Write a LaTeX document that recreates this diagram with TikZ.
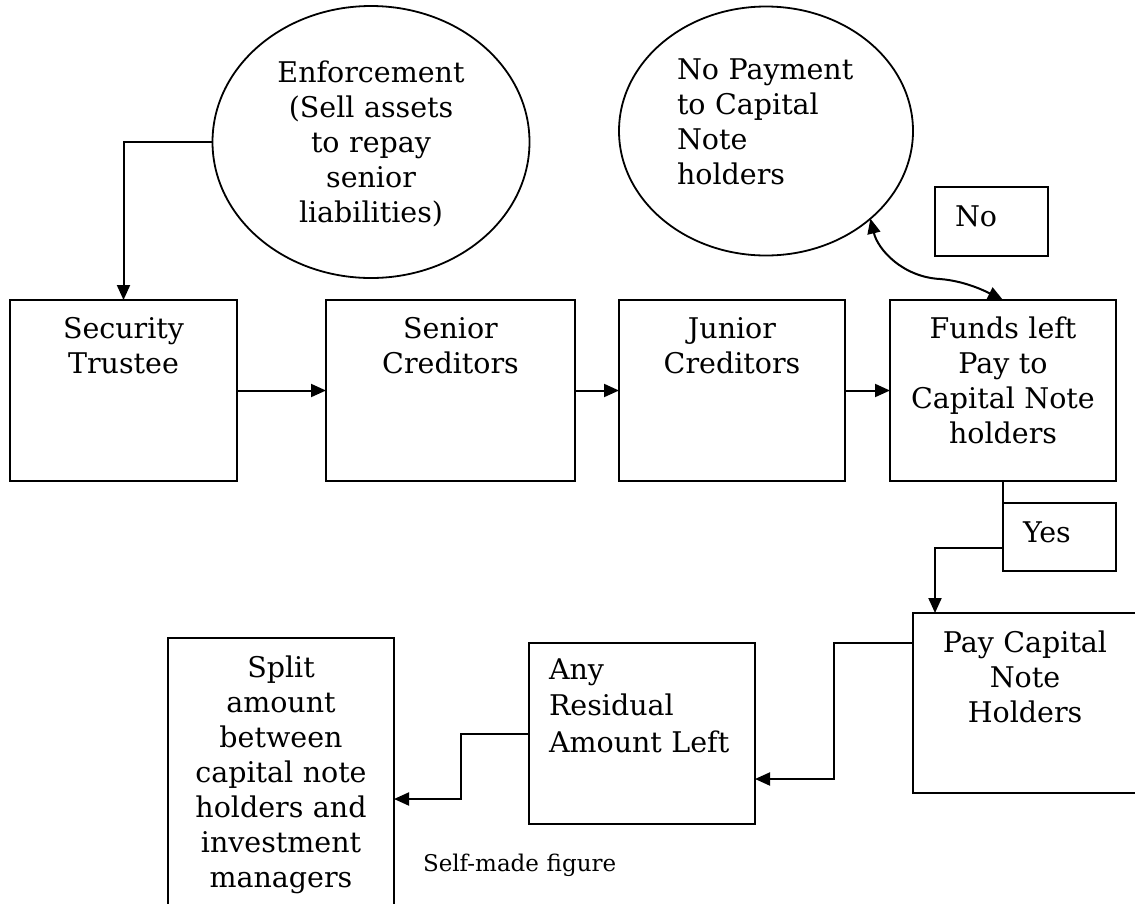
\documentclass[tikz,border=0pt]{standalone}
\usepackage{fontspec}
\setmainfont{DejaVu Serif}
\usetikzlibrary{arrows.meta,shapes.geometric}
\tikzset{
  box/.style={draw, line width=2pt, rectangle, inner sep=0pt, outer sep=0pt, anchor=north west},
  oval/.style={draw, line width=1.8pt, ellipse, inner sep=0pt, outer sep=0pt},
  txt/.style={inner sep=0pt, outer sep=0pt, align=center, text width=240pt, font=\fontsize{28.5}{35}\selectfont, anchor=base},
  ltxt/.style={inner sep=0pt, outer sep=0pt, align=left, text width=240pt, font=\fontsize{28.5}{35}\selectfont, anchor=base west},
  arr/.style={line width=2pt, -{Triangle[length=15pt,width=13pt]}},
  dbl/.style={line width=2pt, {Triangle[length=15pt,width=13pt]}-{Triangle[length=15pt,width=13pt]}},
  plain/.style={line width=2pt}
}
\begin{document}
\begin{tikzpicture}[x=1pt,y=-1pt]
\useasboundingbox (0,0) rectangle (1135,903);
\clip (0,0) rectangle (1135,903);
% ellipses
\node[oval, minimum width=317pt, minimum height=272pt] (enf) at (371,142) {};
\node[oval, minimum width=294pt, minimum height=249pt] (nopay) at (766,131) {};
% boxes
\node[box, minimum width=227pt, minimum height=181pt] (st) at (10,300) {};
\node[box, minimum width=249pt, minimum height=181pt] (sc) at (326,300) {};
\node[box, minimum width=226pt, minimum height=181pt] (jc) at (619,300) {};
\node[box, minimum width=226pt, minimum height=181pt] (funds) at (890,300) {};
\node[box, minimum width=113pt, minimum height=69pt] (no) at (935,187) {};
\node[box, minimum width=113pt, minimum height=68pt] (yes) at (1003,503) {};
\node[box, minimum width=232pt, minimum height=180pt] (pay) at (913,613) {};
\node[box, minimum width=226pt, minimum height=181pt] (any) at (529,643) {};
\node[box, minimum width=226pt, minimum height=280pt] (split) at (168,638) {};
% texts
\node[txt] (enft) at (371,82) {Enforcement\\(Sell assets\\to repay\\senior\\liabilities)};
\node[ltxt] (nopayt) at (677,79) {No Payment\\to Capital\\Note\\holders};
\node[ltxt] (not) at (955,226) {No};
\node[txt] (stt) at (123.5,338) {Security\\Trustee};
\node[txt] (sct) at (450.5,338) {Senior\\Creditors};
\node[txt] (jct) at (732,338) {Junior\\Creditors};
\node[txt] (fundst) at (1003,338) {Funds left\\Pay to\\Capital Note\\holders};
\node[ltxt] (yest) at (1023,542) {Yes};
\node[txt] (payt) at (1025,652) {Pay Capital\\Note\\Holders};
\node[ltxt, font=\fontsize{28.5}{36.5}\selectfont] (anyt) at (549,679) {Any\\Residual\\Amount Left};
\node[txt] (splitt) at (281,677) {Split\\amount\\between\\capital note\\holders and\\investment\\managers};
\node[ltxt, font=\fontsize{23}{28}\selectfont] (src) at (423,871) {Self-made figure};
% connectors
\draw[arr] (enf.west) -| (st.north);
\draw[arr] (st.east) -- (sc.west);
\draw[arr] (sc.east) -- (jc.west);
\draw[arr] (jc.east) -- (funds.west);
\draw[dbl] (nopay.-40.5) .. controls (878,250) and (903,277) .. (940,279) .. controls (965,281) and (985,291) .. (funds.north);
\draw[plain] (funds.south) -- (yes.north west);
\draw[arr] ([yshift=-45pt]yes.north west) -| ([xshift=22pt]pay.north west);
\draw[arr] ([yshift=-30pt]pay.north west) -- ++(-79,0) |- ([yshift=-136pt]any.north east);
\draw[arr] (any.west) -- ++(-68,0) |- ([yshift=-161pt]split.north east);
\end{tikzpicture}
\end{document}
